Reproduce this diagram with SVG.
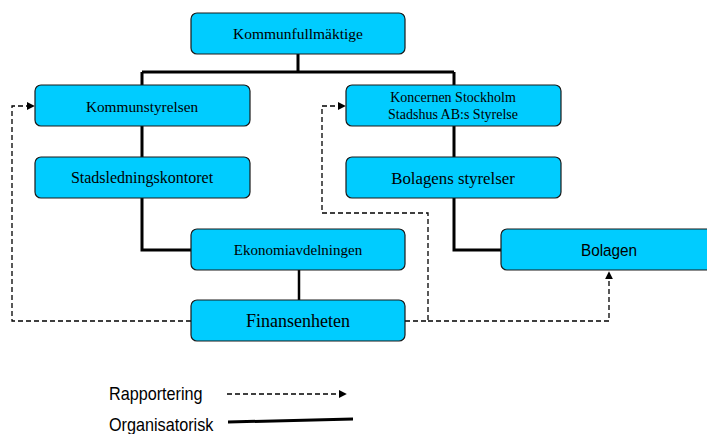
<svg xmlns="http://www.w3.org/2000/svg" width="707" height="434" viewBox="0 0 707 434">
<style>
.box{fill:#00CCFF;stroke:#1a1a1a;stroke-width:1.2}
.t{font-family:"Liberation Serif","Times New Roman",serif;fill:#000;text-anchor:middle}
.s{font-family:"Liberation Sans",Arial,sans-serif;fill:#000}
.org{fill:none;stroke:#000;stroke-width:3}
.rep{fill:none;stroke:#000;stroke-width:1.3;stroke-dasharray:5,3}
</style>
<defs>
<marker id="ah" viewBox="0 0 10 10" refX="9" refY="5" markerWidth="8" markerHeight="8" markerUnits="userSpaceOnUse" orient="auto">
<path d="M0,0 L10,5 L0,10 z" fill="#000"/>
</marker>
</defs>
<g id="connectors">
<path class="org" d="M298,54 V72 M142,72 H454 M142,72 V86 M454,72 V86"/>
<path class="org" d="M142,126 V157 M454,126 V157"/>
<path class="org" d="M142,198 V250 H191 M454,198 V250 H501"/>
<path class="org" d="M299,270 V300" style="stroke-width:2.5"/>
<path class="rep" d="M191,321 H12 V106 H34" marker-end="url(#ah)"/>
<path class="rep" d="M405,321 H428 V213 H322 V106 H345" marker-end="url(#ah)"/>
<path class="rep" d="M428,321 H609 V272" marker-end="url(#ah)"/>
</g>
<g id="kommunfullmaktige"><rect class="box" x="191" y="13" width="214" height="41" rx="6"/><text class="t" x="298" y="39" font-size="15.5">Kommunfullmäktige</text></g>
<g id="kommunstyrelsen"><rect class="box" x="35" y="85" width="215" height="41" rx="6"/><text class="t" x="142" y="112" font-size="15.3">Kommunstyrelsen</text></g>
<g id="koncernen"><rect class="box" x="346" y="85" width="215" height="41" rx="6"/><text class="t" x="453" y="102" font-size="14">Koncernen Stockholm</text><text class="t" x="453" y="119" font-size="14">Stadshus AB:s Styrelse</text></g>
<g id="stadsledningskontoret"><rect class="box" x="35" y="157" width="215" height="41" rx="6"/><text class="t" x="142" y="183" font-size="16">Stadsledningskontoret</text></g>
<g id="bolagens-styrelser"><rect class="box" x="346" y="157" width="215" height="41" rx="6"/><text class="t" x="453" y="184" font-size="16.8">Bolagens styrelser</text></g>
<g id="ekonomiavdelningen"><rect class="box" x="191" y="229" width="214" height="41" rx="6"/><text class="t" x="298" y="255" font-size="15">Ekonomiavdelningen</text></g>
<g id="bolagen"><rect class="box" x="501" y="229" width="212" height="41" rx="6"/><text class="s" x="609" y="256" font-size="17" text-anchor="middle" transform="translate(609 0) scale(0.9 1) translate(-609 0)">Bolagen</text></g>
<g id="finansenheten"><rect class="box" x="191" y="300" width="214" height="41" rx="6"/><text class="t" x="298" y="327" font-size="18">Finansenheten</text></g>
<g id="legend">
<text class="s" x="109" y="400" font-size="18" transform="translate(109 0) scale(0.9 1) translate(-109 0)">Rapportering</text>
<path class="rep" d="M227,394 H346" marker-end="url(#ah)"/>
<text class="s" x="109" y="431" font-size="18" transform="translate(109 0) scale(0.9 1) translate(-109 0)">Organisatorisk</text>
<path d="M228,422 L353,419" stroke="#000" stroke-width="3" fill="none"/>
</g>
</svg>
